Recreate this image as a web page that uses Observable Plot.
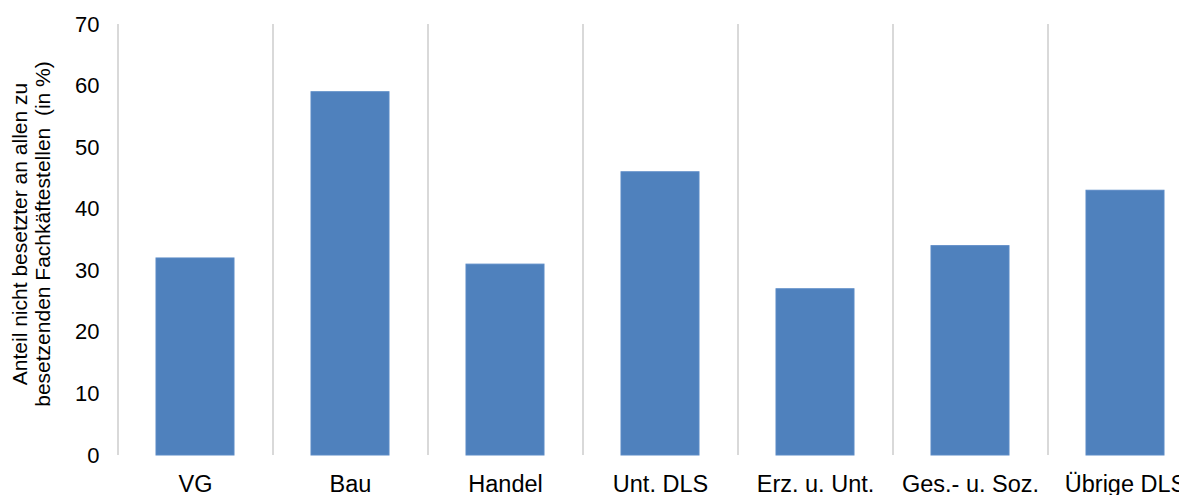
<!DOCTYPE html>
<html>
<head>
<meta charset="utf-8">
<script src="https://cdn.jsdelivr.net/npm/d3@7"></script>
<script src="https://cdn.jsdelivr.net/npm/@observablehq/plot@0.6"></script>
<style>
  html, body { margin: 0; padding: 0; background: #fff; overflow: hidden; }
  #chart svg { overflow: hidden; }
</style>
</head>
<body>
<div id="chart"></div>
<script>
// Sectors and share of unfilled skilled-worker vacancies (%)
const sectors = ["VG", "Bau", "Handel", "Unt. DLS", "Erz. u. Unt.", "Ges.- u. Soz.", "Übrige DLS"];
const shares = [32, 59, 31, 46, 27, 34, 43];
const yTicks = [0, 10, 20, 30, 40, 50, 60, 70];
const yTitle = "Anteil nicht besetzter an allen zu\nbesetzenden Fachkäftestellen\u00a0\u00a0(in %)";

const data = sectors.map((s, i) => ({sector: s, share: shares[i]}));

const W = 1179, H = 495;
const xRange = [117, 1202];
const band = (xRange[1] - xRange[0]) / sectors.length;

const chart = Plot.plot({
  width: W,
  height: H,
  marginTop: 24,
  marginBottom: 40,
  marginLeft: 117,
  marginRight: 0,
  style: {fontFamily: "'Liberation Sans', Arial, sans-serif", fontSize: "21px", color: "#000", background: "#fff"},
  x: {domain: sectors, range: xRange, paddingInner: 0.5, paddingOuter: 0.25, label: null},
  y: {domain: [0, 70], range: [455, 24], label: null},
  marks: [
    // vertical separators at the left edge of each category band
    Plot.ruleX(sectors, {x: d => d, dx: -band / 2, y1: 0, y2: 70, stroke: "#d9d9d9", strokeWidth: 2}),
    Plot.barY(data, {x: "sector", y: "share", fill: "#4f81bd", stroke: "#5a8ac6", strokeWidth: 1}),
    Plot.axisY({ticks: yTicks, tickSize: 0, tickPadding: 18, label: null, fontSize: 22}),
    Plot.axisX({tickSize: 0, tickPadding: 20, label: null, fontSize: 23.5}),
    Plot.text([yTitle], {
      frameAnchor: "left",
      text: d => d,
      rotate: -90,
      dx: -86,
      dy: -6,
      lineHeight: 1.1,
      fontSize: 21,
      fill: "#000",
      textAnchor: "middle"
    })
  ]
});

document.getElementById("chart").append(chart);
</script>
</body>
</html>
